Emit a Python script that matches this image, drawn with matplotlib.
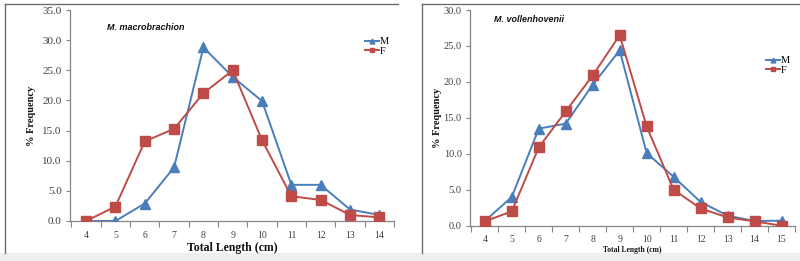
import matplotlib
matplotlib.use("Agg")
import matplotlib.pyplot as plt
from matplotlib.lines import Line2D
from matplotlib.patches import Rectangle
import numpy as np

# ---- data ----
left_lengths = [4, 5, 6, 7, 8, 9, 10, 11, 12, 13, 14]
left_M = [0.0, 0.0, 2.9, 8.9, 28.8, 23.9, 19.9, 6.0, 6.0, 1.9, 1.0]
left_F = [0.0, 2.4, 13.2, 15.3, 21.2, 25.0, 13.4, 4.1, 3.5, 1.0, 0.6]
left_title = "M. macrobrachion"

right_lengths = [4, 5, 6, 7, 8, 9, 10, 11, 12, 13, 14, 15]
right_M = [0.65, 4.0, 13.5, 14.2, 19.6, 24.4, 10.1, 6.8, 3.3, 1.4, 0.65, 0.7]
right_F = [0.6, 2.0, 10.9, 15.9, 20.9, 26.5, 13.8, 5.0, 2.4, 1.15, 0.6, 0.0]
right_title = "M. vollenhovenii"

BLUE = "#4A7EBB"
RED = "#BE4B48"
AXC = "#868686"
TXT = "#404040"
W, H = 800, 261

fig = plt.figure(figsize=(8, 2.61), dpi=100)
fig.patch.set_facecolor("white")

def fx(x):
    return x / W

def fy(y):
    return 1 - y / H

# bottom gray strip
fig.patches.append(Rectangle((0, 0), 1, fy(253), transform=fig.transFigure,
                             facecolor="#efefef", edgecolor="none", zorder=0))
# panel borders
for x0, x1 in [(5, 398), (422, 800)]:
    fig.add_artist(Line2D([fx(x0), fx(x1)], [fy(4), fy(4)], color="#6e6e6e", lw=1.0))
    fig.add_artist(Line2D([fx(x0), fx(x0)], [fy(4), fy(253)], color="#6e6e6e", lw=1.0))


def panel(px0, px1, py_top, py_bot, lengths, M, F, ymax, title, title_xy,
          xl_y, xl_size, yl_x, leg_xy, ytick_size, xtick_size):
    ax = fig.add_axes([fx(px0), fy(py_bot), fx(px1 - px0), (py_bot - py_top) / H])
    n = len(lengths)
    x = np.arange(n)
    ax.plot(x, M, color=BLUE, lw=1.4, marker="^", ms=6.5, mec=BLUE, mfc=BLUE, zorder=3)
    ax.plot(x, F, color=RED, lw=1.4, marker="s", ms=6.5, mec=RED, mfc=RED, zorder=4)
    ax.set_xlim(-0.55, n - 1 + 0.35)
    ax.set_ylim(0, ymax)
    for s in ["top", "right"]:
        ax.spines[s].set_visible(False)
    for s in ["left", "bottom"]:
        ax.spines[s].set_color(AXC)
        ax.spines[s].set_linewidth(0.9)
    ax.set_xticks(x)
    ax.set_xticklabels([str(v) for v in lengths], fontsize=xtick_size,
                       family="Liberation Serif", color=TXT)
    ax.set_xticks(np.arange(-0.5, n - 0.5 + 0.01, 1.0), minor=True)
    ax.tick_params(axis="x", which="major", length=0, pad=7)
    ax.tick_params(axis="x", which="minor", length=4, color=AXC, width=0.8)
    yt = np.arange(0, ymax + 0.01, 5)
    ax.set_yticks(yt)
    ax.set_yticklabels([f"{v:.1f}" for v in yt], fontsize=ytick_size,
                       family="Liberation Serif", color=TXT)
    ax.tick_params(axis="y", length=3, color=AXC, width=0.8, pad=3)
    # titles / labels
    fig.text(fx(title_xy[0]), fy(title_xy[1]), title, fontsize=6.5, fontweight="bold",
             style="italic", family="Liberation Sans", color="#111111", va="center")
    fig.text(fx((px0 + px1) / 2), fy(xl_y), "Total Length (cm)", fontsize=xl_size,
             fontweight="bold", family="Liberation Serif", color="#111111",
             ha="center", va="center")
    fig.text(fx(yl_x), fy((py_top + py_bot) / 2), "% Frequency", fontsize=7.5,
             fontweight="bold", family="Liberation Serif", color="#111111",
             ha="center", va="center", rotation=90)
    handles = [Line2D([], [], color=BLUE, lw=1.4, marker="^", ms=3.5),
               Line2D([], [], color=RED, lw=1.4, marker="s", ms=3.5)]
    fig.legend(handles, ["M", "F"], loc="upper left",
               bbox_to_anchor=(fx(leg_xy[0]), fy(leg_xy[1])),
               frameon=False, handlelength=1.3, handletextpad=0.1,
               labelspacing=0.05, borderpad=0, borderaxespad=0,
               prop={"family": "Liberation Serif", "size": 7.5})
    return ax


panel(70, 394, 10, 221, left_lengths, left_M, left_F, 35, left_title, (107, 27),
      248, 8.5, 32, (365, 37), 8, 7)
panel(470, 795, 10, 225.7, right_lengths, right_M, right_F, 30, right_title, (494, 20),
      250, 5.5, 437, (766, 56), 7.5, 7)

fig.savefig("out.png", dpi=100, facecolor="white")
